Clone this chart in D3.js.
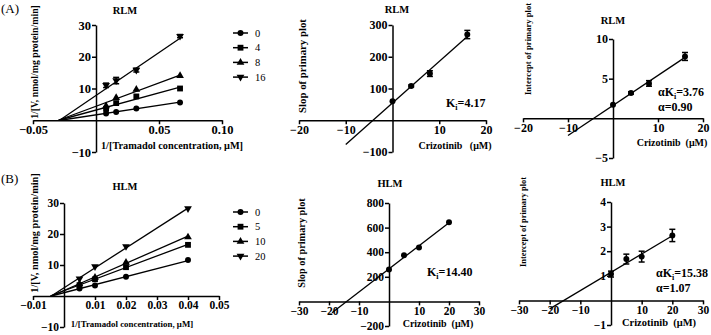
<!DOCTYPE html>
<html>
<head>
<meta charset="utf-8">
<script src="https://cdn.jsdelivr.net/npm/d3@7"></script>
<style>
  body { margin: 0; background: #fff; }
  text { font-family: "Liberation Serif", "Times New Roman", serif; }
</style>
</head>
<body>
<svg id="fig" width="711" height="335"></svg>
<script>
// ---- primary (Lineweaver-Burk) data ----
const rlmInvS = [0.008, 0.016, 0.032, 0.0667];
const hlmInvS = [0.005, 0.01, 0.02, 0.04];
const rlmConc = [0, 4, 8, 16];
const hlmConc = [0, 5, 10, 20];

const rlmInvV0 = [2.1, 2.6, 3.7, 5.6];
const rlmInvV4 = [3.6, 5.4, 7.5, 10.0];
const rlmInvV8 = [4.5, 7.1, 9.7, 14.0];
const rlmInvV16 = [11.0, 12.5, 15.8, 26.5];
const rlmInvV16Err = [0.7, 1.0, 0.6, 0.5];

const hlmInvV0 = [2.4, 3.4, 6.2, 11.6];
const hlmInvV5 = [3.5, 5.4, 9.3, 16.5];
const hlmInvV10 = [3.9, 6.0, 10.8, 19.0];
const hlmInvV20 = [5.6, 9.5, 16.0, 28.2];

// ---- secondary plot data (slope / intercept of primary lines) ----
const rlmSlope = [60, 108, 147, 270];
const rlmSlopeErr = [0, 3, 9, 13];
const rlmIntercept = [1.7, 3.2, 4.4, 7.8];
const rlmInterceptErr = [0, 0.15, 0.35, 0.5];

const hlmSlope = [259, 375, 438, 643];
const hlmSlopeErr = [0, 0, 0, 0];
const hlmIntercept = [1.07, 1.68, 1.78, 2.64];
const hlmInterceptErr = [0.12, 0.2, 0.22, 0.25];

const rlmFitRange = [-10, 16];
const hlmSlopeFitRange = [-19, 20];
const hlmIntFitRange = [-20, 20];

const svg = d3.select("#fig");
const FONT = '"Liberation Serif", "Times New Roman", serif';

function markerPath(kind, size) {
  if (kind === "circle") return d3.symbol(d3.symbolCircle, size)();
  if (kind === "square") return d3.symbol(d3.symbolSquare, size)();
  return d3.symbol(d3.symbolTriangle, size)();
}
const kinds = ["circle", "square", "tri", "invtri"];
const sizes = { circle: 28, square: 34, tri: 26, invtri: 26 };

function placeMarker(g, kind, cx, cy) {
  g.append("path")
    .attr("d", markerPath(kind, sizes[kind]))
    .attr("transform", `translate(${cx},${cy})` + (kind === "invtri" ? " rotate(180)" : ""))
    .attr("fill", "#000");
}

function panel(o) {
  const x = d3.scaleLinear().domain(o.xd).range(o.xr);
  const y = d3.scaleLinear().domain(o.yd).range(o.yr);
  const g = svg.append("g");

  const xa = g.append("g").attr("transform", `translate(0,${y(0)})`)
    .call(d3.axisBottom(x).tickValues(o.xt).tickFormat(o.xf).tickSize(4).tickSizeOuter(0).tickPadding(1));
  const ya = g.append("g").attr("transform", `translate(${x(0)},0)`)
    .call(d3.axisLeft(y).tickValues(o.yt).tickFormat(d3.format("d")).tickSize(4).tickSizeOuter(0).tickPadding(1));
  [xa, ya].forEach(a => {
    a.attr("font-family", null).attr("font-size", null);
    a.selectAll("path, line").attr("stroke", "#000").attr("stroke-width", 1.5);
    a.selectAll("text").attr("font-weight", "bold").attr("fill", "#000")
      .style("font-family", FONT).style("font-size", o.tickFont + "px");
  });

  g.append("text").attr("x", o.titleX).attr("y", o.titleY)
    .attr("text-anchor", "middle").attr("font-weight", "bold").attr("font-size", 10.5)
    .text(o.title);

  g.append("text").attr("transform", `translate(${o.ylabX},${o.ylabY}) rotate(-90)`)
    .attr("text-anchor", "middle").attr("font-weight", "bold").attr("font-size", o.ylabFont)
    .text(o.ylab);

  g.append("text").attr("x", o.xlabX).attr("y", o.xlabY)
    .attr("text-anchor", "middle").attr("font-weight", "bold").attr("font-size", o.xlabFont)
    .attr("xml:space", "preserve")
    .text(o.xlab);

  return { g, x, y };
}

function errorBar(p, xv, yv, e) {
  const cx = p.x(xv);
  p.g.append("line").attr("x1", cx).attr("x2", cx).attr("y1", p.y(yv - e)).attr("y2", p.y(yv + e))
    .attr("stroke", "#000").attr("stroke-width", 1.5);
  [yv - e, yv + e].forEach(v => p.g.append("line")
    .attr("x1", cx - 3).attr("x2", cx + 3).attr("y1", p.y(v)).attr("y2", p.y(v))
    .attr("stroke", "#000").attr("stroke-width", 1.5));
}

function primary(o, xs, series, slopes, intercepts, conc, errs) {
  const p = panel(o);
  const xmax = d3.max(xs);
  series.forEach((ys, i) => {
    const m = slopes[i], b = intercepts[i];
    const x0 = -b / m;
    p.g.append("line")
      .attr("x1", p.x(x0)).attr("y1", p.y(0))
      .attr("x2", p.x(xmax)).attr("y2", p.y(m * xmax + b))
      .attr("stroke", "#000").attr("stroke-width", 1.3);
    ys.forEach((v, j) => {
      const e = errs && errs[i] ? errs[i][j] : 0;
      if (e > 0) errorBar(p, xs[j], v, e);
      placeMarker(p.g, kinds[i], p.x(xs[j]), p.y(v));
    });
  });
  // legend
  const lg = svg.append("g");
  conc.forEach((c, i) => {
    const yy = o.legY + i * o.legStep;
    lg.append("line").attr("x1", o.legX).attr("x2", o.legX + 15).attr("y1", yy).attr("y2", yy)
      .attr("stroke", "#000").attr("stroke-width", 1.5);
    placeMarker(lg, kinds[i], o.legX + 7.5, yy);
    lg.append("text").attr("x", o.legX + 22).attr("y", yy + 3.5)
      .attr("font-size", 10.5).text(c);
  });
}

function secondary(o, xs, ys, errs, range, note) {
  const p = panel(o);
  const mx = d3.mean(xs), my = d3.mean(ys);
  const sxy = d3.sum(xs, (v, i) => (v - mx) * (ys[i] - my));
  const sxx = d3.sum(xs, v => (v - mx) * (v - mx));
  const m = sxy / sxx, b = my - m * mx;
  p.g.append("line")
    .attr("x1", p.x(range[0])).attr("y1", p.y(m * range[0] + b))
    .attr("x2", p.x(range[1])).attr("y2", p.y(m * range[1] + b))
    .attr("stroke", "#000").attr("stroke-width", 1.3);
  xs.forEach((xv, i) => {
    if (errs[i] > 0) errorBar(p, xv, ys[i], errs[i]);
    placeMarker(p.g, "circle", p.x(xv), p.y(ys[i]));
  });
  note.lines.forEach((ln, k) => {
    const t = p.g.append("text").attr("x", note.x).attr("y", note.y + k * 15)
      .attr("font-weight", "bold").attr("font-size", 12);
    ln.forEach(part => {
      const ts = t.append("tspan").text(part.t);
      if (part.sub) ts.attr("font-size", 8).attr("dy", 3);
      if (part.after) ts.attr("dy", -3);
    });
  });
}

// panel letters
svg.append("text").attr("x", 1).attr("y", 13).attr("font-size", 13).text("(A)");
svg.append("text").attr("x", 1).attr("y", 183).attr("font-size", 13).text("(B)");

const fmt2 = d3.format(".2f");

// (A) RLM primary
primary({
  xd: [-0.05, 0.10], xr: [33, 222], yd: [-10, 30], yr: [152, 25],
  xt: [-0.05, 0.05, 0.10], xf: fmt2, yt: [-10, 10, 20, 30], tickFont: 12.5,
  title: "RLM", titleX: 125, titleY: 14,
  ylab: "1/[V, nmol/mg protein/min]", ylabX: 38, ylabY: 62, ylabFont: 9.8,
  xlab: "1/[Tramadol concentration, \u03bcM]", xlabX: 172, xlabY: 149, xlabFont: 10.3,
  legX: 233, legY: 33, legStep: 14.7
}, rlmInvS, [rlmInvV0, rlmInvV4, rlmInvV8, rlmInvV16], rlmSlope, rlmIntercept, rlmConc,
  [null, null, null, rlmInvV16Err]);

// (A) RLM slope
secondary({
  xd: [-20, 20], xr: [299, 486], yd: [-100, 300], yr: [152, 25],
  xt: [-20, -10, 10, 20], xf: d3.format("d"), yt: [-100, 100, 200, 300], tickFont: 12,
  title: "RLM", titleX: 397, titleY: 13,
  ylab: "Slop of primary plot", ylabX: 306, ylabY: 66, ylabFont: 10.8,
  xlab: "Crizotinib   (\u03bcM)", xlabX: 455, xlabY: 149, xlabFont: 10
}, rlmConc, rlmSlope, rlmSlopeErr, rlmFitRange,
  { x: 446, y: 107, lines: [[{ t: "K" }, { t: "i", sub: true }, { t: "=4.17", after: true }]] });

// (A) RLM intercept
secondary({
  xd: [-20, 20], xr: [523, 703], yd: [-5, 10], yr: [158, 39],
  xt: [-20, -10, 10, 20], xf: d3.format("d"), yt: [-5, 5, 10], tickFont: 12,
  title: "RLM", titleX: 613, titleY: 24,
  ylab: "Intercept of primary plot", ylabX: 531, ylabY: 49, ylabFont: 8.6,
  xlab: "Crizotinib  (\u03bcM)", xlabX: 672, xlabY: 146, xlabFont: 10
}, rlmConc, rlmIntercept, rlmInterceptErr, rlmFitRange,
  { x: 658, y: 96, lines: [[{ t: "\u03b1K" }, { t: "i", sub: true }, { t: "=3.76", after: true }], [{ t: "\u03b1=0.90" }]] });

// (B) HLM primary
primary({
  xd: [-0.01, 0.05], xr: [33, 219], yd: [-10, 30], yr: [327, 203],
  xt: [-0.01, 0.01, 0.02, 0.03, 0.04, 0.05], xf: fmt2, yt: [-10, 10, 20, 30], tickFont: 11.5,
  title: "HLM", titleX: 125, titleY: 190,
  ylab: "1/[V, nmol/mg protein/min]", ylabX: 38, ylabY: 233, ylabFont: 10.3,
  xlab: "1/[Tramadol concentration, \u03bcM]", xlabX: 132, xlabY: 327, xlabFont: 8.9,
  legX: 233, legY: 212, legStep: 14.7
}, hlmInvS, [hlmInvV0, hlmInvV5, hlmInvV10, hlmInvV20], hlmSlope, hlmIntercept, hlmConc, null);

// (B) HLM slope
secondary({
  xd: [-30, 30], xr: [299, 479], yd: [-200, 800], yr: [326, 203],
  xt: [-30, -20, -10, 10, 20, 30], xf: d3.format("d"), yt: [-200, 200, 400, 600, 800], tickFont: 11.5,
  title: "HLM", titleX: 390, titleY: 187,
  ylab: "Slop of primary plot", ylabX: 305, ylabY: 243, ylabFont: 10.3,
  xlab: "Crizotinib  (\u03bcM)", xlabX: 438, xlabY: 327, xlabFont: 10
}, hlmConc, hlmSlope, hlmSlopeErr, hlmSlopeFitRange,
  { x: 427, y: 276, lines: [[{ t: "K" }, { t: "i", sub: true }, { t: "=14.40", after: true }]] });

// (B) HLM intercept
secondary({
  xd: [-30, 30], xr: [519, 703], yd: [-1, 4], yr: [325, 202],
  xt: [-30, -20, -10, 10, 20, 30], xf: d3.format("d"), yt: [-1, 1, 2, 3, 4], tickFont: 11.5,
  title: "HLM", titleX: 613, titleY: 186,
  ylab: "Intercept of primary plot", ylabX: 526, ylabY: 222, ylabFont: 8.4,
  xlab: "Crizotinib  (\u03bcM)", xlabX: 659, xlabY: 326, xlabFont: 10.5
}, hlmConc, hlmIntercept, hlmInterceptErr, hlmIntFitRange,
  { x: 656, y: 277, lines: [[{ t: "\u03b1K" }, { t: "i", sub: true }, { t: "=15.38", after: true }], [{ t: "\u03b1=1.07" }]] });
</script>
</body>
</html>
